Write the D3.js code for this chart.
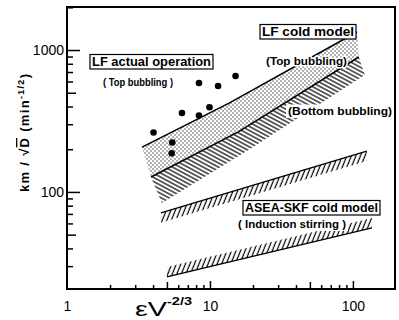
<!DOCTYPE html>
<html>
<head>
<meta charset="utf-8">
<script src="https://cdn.jsdelivr.net/npm/d3@7"></script>
<style>
body { margin: 0; background: #fff; }
svg { display: block; font-family: "Liberation Sans", Arial, sans-serif; }
</style>
</head>
<body>
<div id="chart"></div>
<script>
const width = 399, height = 320;
const margin = {top: 7, right: 4, bottom: 31, left: 67};

// axis ticks
const xTickLabels = [1, 10, 100];
const yTickLabels = [100, 1000];

// LF actual operation (top bubbling) - measured points
const actualX = [4.03, 5.45, 5.40, 6.37, 8.38, 8.38, 9.93, 11.4, 15.1];
const actualY = [262, 223, 187, 360, 586, 346, 395, 558, 656];

// LF cold model, top bubbling band (stippled)
const topUpperX = [3.35, 13.6, 106.7];
const topUpperY = [207, 423, 1340];
const topLowerX = [3.87, 15.9, 110];
const topLowerY = [127.5, 266, 893];

// LF cold model, bottom bubbling band (hatched, below the top band)
const bottomLowerX = [4.62, 18.7, 121];
const bottomLowerY = [83.7, 198, 667];

// ASEA-SKF cold model (induction stirring), upper and lower limits
const aseaUpperX = [4.54, 125];
const aseaUpperY = [71.2, 194];
const aseaLowerX = [5.0, 136];
const aseaLowerY = [25.2, 55.8];

const zip = (xs, ys) => xs.map((v, i) => [v, ys[i]]);

const svg = d3.select("#chart")
    .append("svg")
    .attr("width", width)
    .attr("height", height);

const x = d3.scaleLog()
    .domain([1, 197])
    .range([margin.left, width - margin.right]);

const y = d3.scaleLog()
    .domain([20.7, 2010])
    .range([height - margin.bottom, margin.top]);

// fill patterns
const defs = svg.append("defs");

const dots = defs.append("pattern")
    .attr("id", "dots")
    .attr("patternUnits", "userSpaceOnUse")
    .attr("width", 4).attr("height", 4);
dots.append("circle").attr("cx", 1).attr("cy", 1).attr("r", 0.65).attr("fill", "#222");
dots.append("circle").attr("cx", 3).attr("cy", 3).attr("r", 0.65).attr("fill", "#222");

defs.append("pattern")
    .attr("id", "hatch")
    .attr("patternUnits", "userSpaceOnUse")
    .attr("width", 10).attr("height", 3.6)
    .attr("patternTransform", "rotate(28)")
    .append("line")
    .attr("x1", 0).attr("y1", 1.8).attr("x2", 10).attr("y2", 1.8)
    .attr("stroke", "#000").attr("stroke-width", 1.2);

defs.append("pattern")
    .attr("id", "slash")
    .attr("patternUnits", "userSpaceOnUse")
    .attr("width", 4.2).attr("height", 20)
    .attr("patternTransform", "rotate(22)")
    .append("line")
    .attr("x1", 2).attr("y1", 0).attr("x2", 2).attr("y2", 20)
    .attr("stroke", "#000").attr("stroke-width", 1.2);

const toPx = pts => pts.map(d => [x(d[0]), y(d[1])]);
const line = d3.line();

// band between two edges -> closed polygon
const band = (upper, lower) => {
    const pts = toPx(upper).concat(toPx(lower).reverse());
    return line(pts) + "Z";
};

// offset strip along a line, used for hatched limits
const strip = (edge, off) => {
    const p = toPx(edge);
    const q = p.map(d => [d[0], d[1] + off]).reverse();
    return line(p.concat(q)) + "Z";
};

const topUpper = zip(topUpperX, topUpperY);
const topLower = zip(topLowerX, topLowerY);
const bottomLower = zip(bottomLowerX, bottomLowerY);
const aseaUpper = zip(aseaUpperX, aseaUpperY);
const aseaLower = zip(aseaLowerX, aseaLowerY);

// LF cold model bands
svg.append("path").attr("d", band(topUpper, topLower)).attr("fill", "url(#dots)");
svg.append("path").attr("d", band(topLower, bottomLower)).attr("fill", "url(#hatch)");

svg.append("path").attr("d", line(toPx(topUpper)))
    .attr("fill", "none").attr("stroke", "#000").attr("stroke-width", 1.5);
svg.append("path").attr("d", line(toPx(topLower)))
    .attr("fill", "none").attr("stroke", "#000").attr("stroke-width", 1.5);

// ASEA-SKF limits
svg.append("path").attr("d", strip(aseaUpper, 10)).attr("fill", "url(#slash)");
svg.append("path").attr("d", strip(aseaLower, -10)).attr("fill", "url(#slash)");
svg.append("path").attr("d", line(toPx(aseaUpper)))
    .attr("fill", "none").attr("stroke", "#000").attr("stroke-width", 1.4);
svg.append("path").attr("d", line(toPx(aseaLower)))
    .attr("fill", "none").attr("stroke", "#000").attr("stroke-width", 1.4);

// actual operation points
svg.selectAll("circle.pt")
    .data(zip(actualX, actualY))
    .join("circle")
    .attr("class", "pt")
    .attr("cx", d => x(d[0]))
    .attr("cy", d => y(d[1]))
    .attr("r", 3.3)
    .attr("fill", "#000");

// labels
const labels = [
    {t: "LF actual operation", x: 92, y: 66, w: 119, s: 12.5, box: true},
    {t: "( Top bubbling )", x: 103, y: 86, w: 70, s: 11},
    {t: "LF cold model", x: 262, y: 36, w: 92, s: 12.5, box: true},
    {t: "(Top bubbling)", x: 266, y: 65, w: 81, s: 11.5, halo: true},
    {t: "(Bottom bubbling)", x: 288, y: 115, w: 104, s: 11.5, bg: true},
    {t: "ASEA-SKF cold model", x: 245, y: 212, w: 133, s: 12.5, box: true},
    {t: "( Induction stirring )", x: 238, y: 228, w: 108, s: 11.5, bg: true}
];

labels.forEach(l => {
    if (l.box || l.bg) {
        svg.append("rect")
            .attr("x", l.x - 2).attr("y", l.y - l.s + 1)
            .attr("width", l.w + 4).attr("height", l.s + 2)
            .attr("fill", "#fff")
            .attr("stroke", l.box ? "#000" : "none")
            .attr("stroke-width", 1.2);
    }
    const t = svg.append("text")
        .attr("x", l.x).attr("y", l.y)
        .attr("textLength", l.w)
        .attr("lengthAdjust", "spacingAndGlyphs")
        .style("font-size", l.s + "px")
        .style("font-weight", "bold")
        .text(l.t);
    if (l.halo) {
        t.attr("stroke", "#fff").attr("stroke-width", 3)
            .attr("paint-order", "stroke").attr("stroke-linejoin", "round");
    }
});

// frame
svg.append("rect")
    .attr("x", margin.left).attr("y", margin.top)
    .attr("width", width - margin.left - margin.right)
    .attr("height", height - margin.top - margin.bottom)
    .attr("fill", "none").attr("stroke", "#000").attr("stroke-width", 2);

// minor tick values
const decades = [1, 10, 100, 1000];
const minor = decades.flatMap(d => [2, 3, 4, 6, 7, 8, 9].map(m => m * d));
const mid = decades.map(d => 5 * d);
const inX = v => v > 1 && v < 197;
const inY = v => v > 20.7 && v < 2010;

const styleAxis = g => {
    g.select(".domain").remove();
    g.selectAll("line").attr("stroke", "#000").attr("stroke-width", 1.5);
    g.selectAll("text")
        .style("font-size", "14px")
        .style("font-family", "'Liberation Sans', Arial, sans-serif")
        .attr("fill", "#000");
};

// y axis
const yAxisG = svg.append("g").attr("transform", `translate(${margin.left},0)`);
yAxisG.append("g").call(d3.axisLeft(y).tickValues(minor.filter(inY)).tickSize(-6).tickFormat("")).call(styleAxis);
yAxisG.append("g").call(d3.axisLeft(y).tickValues(mid.filter(inY)).tickSize(-9).tickFormat("")).call(styleAxis);
yAxisG.append("g").call(d3.axisLeft(y).tickValues(yTickLabels).tickSize(-13).tickPadding(3).tickFormat(d3.format("d"))).call(styleAxis);

// x axis
const xAxisG = svg.append("g").attr("transform", `translate(0,${height - margin.bottom})`);
xAxisG.append("g").call(d3.axisBottom(x).tickValues(minor.filter(inX)).tickSize(-4).tickFormat("")).call(styleAxis);
xAxisG.append("g").call(d3.axisBottom(x).tickValues(mid.filter(inX)).tickSize(-7).tickFormat("")).call(styleAxis);
xAxisG.append("g").call(d3.axisBottom(x).tickValues(xTickLabels).tickSize(-8).tickPadding(12).tickFormat(d3.format("d"))).call(styleAxis);
xAxisG.selectAll("line").filter(d => d === 1).remove();

// axis titles
svg.append("text")
    .attr("x", 135).attr("y", 316)
    .attr("textLength", 32)
    .attr("lengthAdjust", "spacingAndGlyphs")
    .style("font-size", "20px")
    .text("εV");
svg.append("text")
    .attr("x", 167).attr("y", 305)
    .attr("textLength", 25)
    .attr("lengthAdjust", "spacingAndGlyphs")
    .style("font-size", "11px")
    .style("font-weight", "bold")
    .text("-2/3");

const yTitle = svg.append("text")
    .attr("transform", "translate(29,133) rotate(-90)")
    .attr("text-anchor", "middle")
    .attr("textLength", 118)
    .style("font-size", "13px")
    .style("font-weight", "bold");
yTitle.append("tspan").text("km / √");
yTitle.append("tspan").style("text-decoration", "overline").text("D");
yTitle.append("tspan").text("   (min");
yTitle.append("tspan").attr("dy", -5).style("font-size", "9px").text("-1/2");
yTitle.append("tspan").attr("dy", 5).text(")");
</script>
</body>
</html>
